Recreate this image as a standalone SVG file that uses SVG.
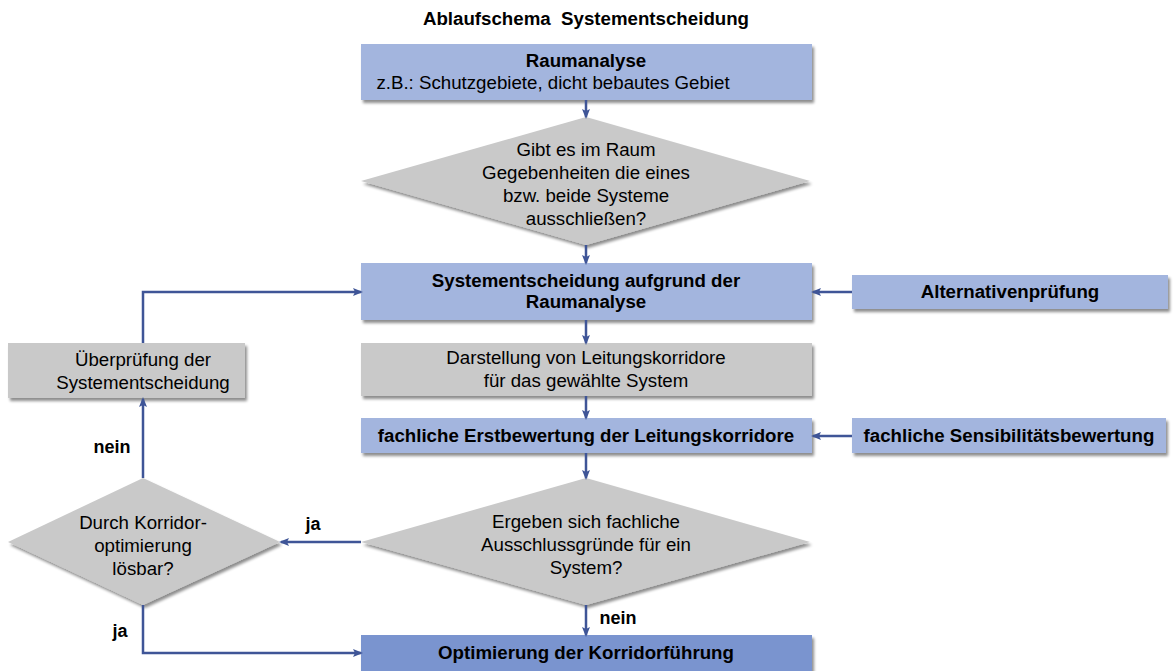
<svg xmlns="http://www.w3.org/2000/svg" width="1176" height="671" viewBox="0 0 1176 671">
<defs>
<filter id="sh" x="-5%" y="-20%" width="110%" height="150%">
<feGaussianBlur in="SourceAlpha" stdDeviation="1.5"/>
<feOffset dx="2" dy="3" result="o"/>
<feComponentTransfer><feFuncA type="linear" slope="0.45"/></feComponentTransfer>
<feMerge><feMergeNode/><feMergeNode in="SourceGraphic"/></feMerge>
</filter>
<marker id="ah" markerWidth="10" markerHeight="8" refX="8" refY="4" orient="auto" markerUnits="userSpaceOnUse">
<path d="M0,0 L10,4 L0,8 L2,4 Z" fill="#3F5597"/>
</marker>
<style>
.blue{fill:#A3B5DE;filter:url(#sh)}
.dark{fill:#7A94CF;filter:url(#sh)}
.gray{fill:#C9C9C9;filter:url(#sh)}
text{font-family:"Liberation Sans",Arial,sans-serif;fill:#000;text-anchor:middle}
.t{font-size:18.7px}
.b{font-size:18.7px;font-weight:bold}
.c{fill:none;stroke:#3F5597;stroke-width:2.5;marker-end:url(#ah)}
.l{font-size:18px;font-weight:bold}
</style>
</defs>
<text x="586" y="25" class="b" xml:space="preserve">Ablaufschema  Systementscheidung</text>
<g id="raumanalyse">
<rect x="361" y="44" width="451" height="56" class="blue"/>
<text x="586" y="67" class="b">Raumanalyse</text>
<text x="553" y="89" class="t">z.B.: Schutzgebiete, dicht bebautes Gebiet</text>
</g>
<g id="frage-raum">
<polygon points="586,117 810,181 586,245 361,181" class="gray"/>
<text x="586" y="156" class="t">Gibt es im Raum</text>
<text x="586" y="179" class="t">Gegebenheiten die eines</text>
<text x="586" y="202" class="t">bzw. beide Systeme</text>
<text x="586" y="225" class="t">ausschließen?</text>
</g>
<g id="systementscheidung">
<rect x="361" y="263" width="451" height="57" class="blue"/>
<text x="586" y="287" class="b">Systementscheidung aufgrund der</text>
<text x="586" y="308" class="b">Raumanalyse</text>
</g>
<g id="alternativen">
<rect x="852" y="275" width="316" height="34" class="blue"/>
<text x="1010" y="298" class="b">Alternativenprüfung</text>
</g>
<g id="darstellung">
<rect x="361" y="343" width="451" height="53" class="gray"/>
<text x="586" y="364" class="t">Darstellung von Leitungskorridore</text>
<text x="586" y="387" class="t">für das gewählte System</text>
</g>
<g id="ueberpruefung">
<rect x="8" y="343" width="237" height="55" class="gray"/>
<text x="143" y="366" class="t">Überprüfung der</text>
<text x="143" y="389" class="t">Systementscheidung</text>
</g>
<g id="erstbewertung">
<rect x="361" y="418" width="451" height="35" class="blue"/>
<text x="586" y="442" class="b">fachliche Erstbewertung der Leitungskorridore</text>
</g>
<g id="sensibilitaet">
<rect x="852" y="418" width="314" height="35" class="blue"/>
<text x="1009" y="442" class="b">fachliche Sensibilitätsbewertung</text>
</g>
<g id="frage-fachlich">
<polygon points="586,478 810,542 586,605 361,542" class="gray"/>
<text x="586" y="528" class="t">Ergeben sich fachliche</text>
<text x="586" y="551" class="t">Ausschlussgründe für ein</text>
<text x="586" y="574" class="t">System?</text>
</g>
<g id="frage-korridor">
<polygon points="143,478 280,542 143,605 8,542" class="gray"/>
<text x="143" y="529" class="t">Durch Korridor-</text>
<text x="143" y="552" class="t">optimierung</text>
<text x="143" y="575" class="t">lösbar?</text>
</g>
<g id="optimierung">
<rect x="361" y="635" width="451" height="36" class="dark"/>
<text x="586" y="659" class="b">Optimierung der Korridorführung</text>
</g>
<g id="connectors">
<path d="M586,100 V117" class="c"/>
<path d="M586,245 V263" class="c"/>
<path d="M586,320 V343" class="c"/>
<path d="M586,396 V418" class="c"/>
<path d="M586,453 V478" class="c"/>
<path d="M586,605 V635" class="c"/>
<path d="M852,292 H813" class="c"/>
<path d="M852,436 H813" class="c"/>
<path d="M361,542 H281" class="c"/>
<path d="M143,605 V653 H361" class="c"/>
<path d="M143,478 V399" class="c"/>
<path d="M143,343 V292 H361" class="c"/>
</g>
<g id="labels">
<text x="618" y="624" class="l">nein</text>
<text x="313" y="530" class="l">ja</text>
<text x="120" y="637" class="l">ja</text>
<text x="112" y="453" class="l">nein</text>
</g>
</svg>
